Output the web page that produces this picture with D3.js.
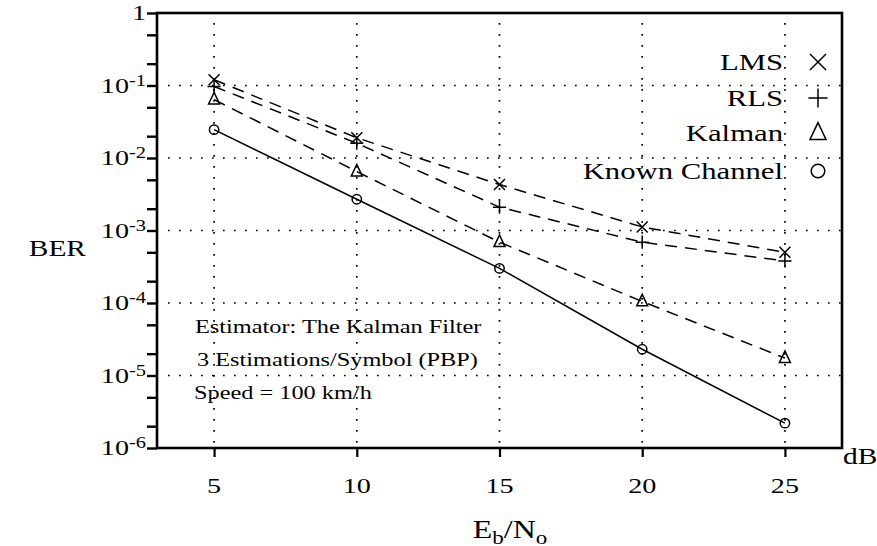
<!doctype html>
<html>
<head>
<script src="https://d3js.org/d3.v7.min.js"></script>
<style>
body { margin: 0; background: #fff; }
text { font-family: "Liberation Serif", "Times New Roman", serif; fill: #000; }
.grid { stroke: #000; stroke-width: 1.7; stroke-dasharray: 1.7,9.3; stroke-linecap: butt; }
.frame { fill: none; stroke: #000; stroke-width: 2.6; }
.series { fill: none; stroke: #000; stroke-width: 1.5; }
.mark { fill: none; stroke: #000; stroke-width: 1.5; }
</style>
</head>
<body>
<svg width="877" height="546" id="chart"></svg>

<script type="text/javascript">
// values (BER vs Eb/No in dB)
var snr = [5, 10, 15, 20, 25];
var lms = [0.12, 0.019, 0.0043, 0.00112, 0.0005];
var rls = [0.097, 0.016, 0.0021, 0.00069, 0.00038];
var kalman = [0.064, 0.0065, 0.00069, 0.000105, 0.0000174];
var known = [0.0246, 0.0027, 0.0003, 0.000023, 0.0000022];

var decades = [0, -1, -2, -3, -4, -5, -6];
var xTicks = [5, 10, 15, 20, 25];
var legendNames = ["LMS", "RLS", "Kalman", "Known Channel"];
var notes = ["Estimator: The Kalman Filter", "3 Estimations/Symbol (PBP)", "Speed = 100 km/h"];

var svg = d3.select("#chart");
var mLeft = 157, mRight = 842, mTop = 13, mBottom = 448;
var stretch = 1.28; // the scan is wider than it is tall

var x = d3.scaleLinear().domain([3, 27]).range([mLeft, mRight]);
var y = d3.scaleLog().domain([1e-6, 1]).range([mBottom, mTop]);

function place(px, py) {
  return "translate(" + px + "," + py + ") scale(" + stretch + ",1)";
}

// dotted grid
svg.selectAll(".hgrid").data(decades.slice(1, 6))
  .enter().append("line")
  .attr("class", "grid")
  .attr("x1", mLeft + 11).attr("x2", mRight)
  .attr("y1", function(d) { return y(Math.pow(10, d)); })
  .attr("y2", function(d) { return y(Math.pow(10, d)); });

svg.selectAll(".vgrid").data(xTicks)
  .enter().append("line")
  .attr("class", "grid")
  .attr("x1", function(d) { return x(d); }).attr("x2", function(d) { return x(d); })
  .attr("y1", mTop + 10).attr("y2", mBottom);

// minor ticks (2 and 5 of each decade)
var minor = [];
decades.slice(1).forEach(function(k) {
  minor.push(2 * Math.pow(10, k));
  minor.push(5 * Math.pow(10, k));
});

var yMajor = d3.axisLeft(y).tickValues(decades.map(function(k) { return Math.pow(10, k); }))
  .tickSize(10).tickFormat("");
var yMinor = d3.axisLeft(y).tickValues(minor).tickSize(10).tickFormat("");
var xAxis = d3.axisBottom(x).tickValues(xTicks).tickSize(9).tickFormat("");

[yMajor, yMinor].forEach(function(ax) {
  var g = svg.append("g").attr("transform", "translate(" + mLeft + ",0)").call(ax);
  g.select(".domain").remove();
  g.selectAll("line").attr("stroke", "#000").attr("stroke-width", 2.4);
});
var gx = svg.append("g").attr("transform", "translate(0," + mBottom + ")").call(xAxis);
gx.select(".domain").remove();
gx.selectAll("line").attr("stroke", "#000").attr("stroke-width", 2.2);

// frame
svg.append("rect").attr("class", "frame")
  .attr("x", mLeft).attr("y", mTop)
  .attr("width", mRight - mLeft).attr("height", mBottom - mTop);

// y tick labels
var yl = svg.selectAll(".ylab").data(decades).enter().append("text")
  .attr("transform", function(d) { return place(146, y(Math.pow(10, d)) + 7); })
  .attr("text-anchor", "end")
  .style("font-size", "22px");
yl.append("tspan").text(function(d) { return d === 0 ? "1" : "10"; });
yl.filter(function(d) { return d !== 0; }).append("tspan")
  .attr("dy", -7).style("font-size", "16px")
  .text(function(d) { return "-" + (-d); });

// x tick labels
svg.selectAll(".xlab").data(xTicks).enter().append("text")
  .attr("transform", function(d) { return place(x(d), 493); })
  .attr("text-anchor", "middle")
  .style("font-size", "22px")
  .text(function(d) { return d; });

// axis titles
svg.append("text").attr("transform", place(86, 256)).attr("text-anchor", "end")
  .style("font-size", "23px").text("BER");
svg.append("text").attr("transform", place(843, 464)).style("font-size", "23px").text("dB");
var xt = svg.append("text").attr("transform", place(510, 538)).attr("text-anchor", "middle")
  .style("font-size", "25px");
xt.append("tspan").text("E");
xt.append("tspan").attr("dy", 6).style("font-size", "18px").text("b");
xt.append("tspan").attr("dy", -6).text("/N");
xt.append("tspan").attr("dy", 6).style("font-size", "18px").text("o");

// series
var series = [
  { name: legendNames[0], values: lms, dash: "12,8", mark: "x" },
  { name: legendNames[1], values: rls, dash: "12,8", mark: "plus" },
  { name: legendNames[2], values: kalman, dash: "12,8", mark: "tri" },
  { name: legendNames[3], values: known, dash: null, mark: "circle" }
];

var line = d3.line()
  .x(function(d) { return x(d[0]); })
  .y(function(d) { return y(d[1]); });

function markPath(type, s) {
  var p = d3.path();
  if (type === "x") {
    p.moveTo(-s, -s); p.lineTo(s, s); p.moveTo(-s, s); p.lineTo(s, -s);
  } else if (type === "plus") {
    p.moveTo(-s * 1.2, 0); p.lineTo(s * 1.2, 0); p.moveTo(0, -s * 1.2); p.lineTo(0, s * 1.2);
  } else if (type === "tri") {
    p.moveTo(0, -s * 1.3); p.lineTo(s, s * 0.8); p.lineTo(-s, s * 0.8); p.closePath();
  } else {
    p.arc(0, 0, s * 0.85, 0, 2 * Math.PI);
  }
  return p.toString();
}

series.forEach(function(s) {
  var pts = d3.zip(snr, s.values);
  svg.append("path").datum(pts)
    .attr("class", "series")
    .attr("stroke-dasharray", s.dash)
    .attr("d", line);
  svg.selectAll(".m-" + s.mark).data(pts).enter().append("path")
    .attr("class", "mark")
    .attr("transform", function(d) { return "translate(" + x(d[0]) + "," + y(d[1]) + ")"; })
    .attr("d", markPath(s.mark, 5.5));
});

// legend
var lg = svg.selectAll(".legend").data(series).enter().append("g")
  .attr("transform", function(d, i) { return "translate(0," + [62, 98, 133, 171][i] + ")"; });
lg.append("text").attr("transform", place(783, 8)).attr("text-anchor", "end")
  .style("font-size", "24px").text(function(d) { return d.name; });
lg.append("path").attr("class", "mark").attr("stroke-width", 1.7)
  .attr("transform", "translate(818,0)")
  .attr("d", function(d) { return markPath(d.mark, 8); });

// notes
svg.selectAll(".note").data(notes).enter().append("text")
  .attr("transform", function(d, i) { return place([195, 197, 194][i], 333 + i * 33); })
  .style("font-size", "19px")
  .text(function(d) { return d; });
</script>
</body>
</html>
